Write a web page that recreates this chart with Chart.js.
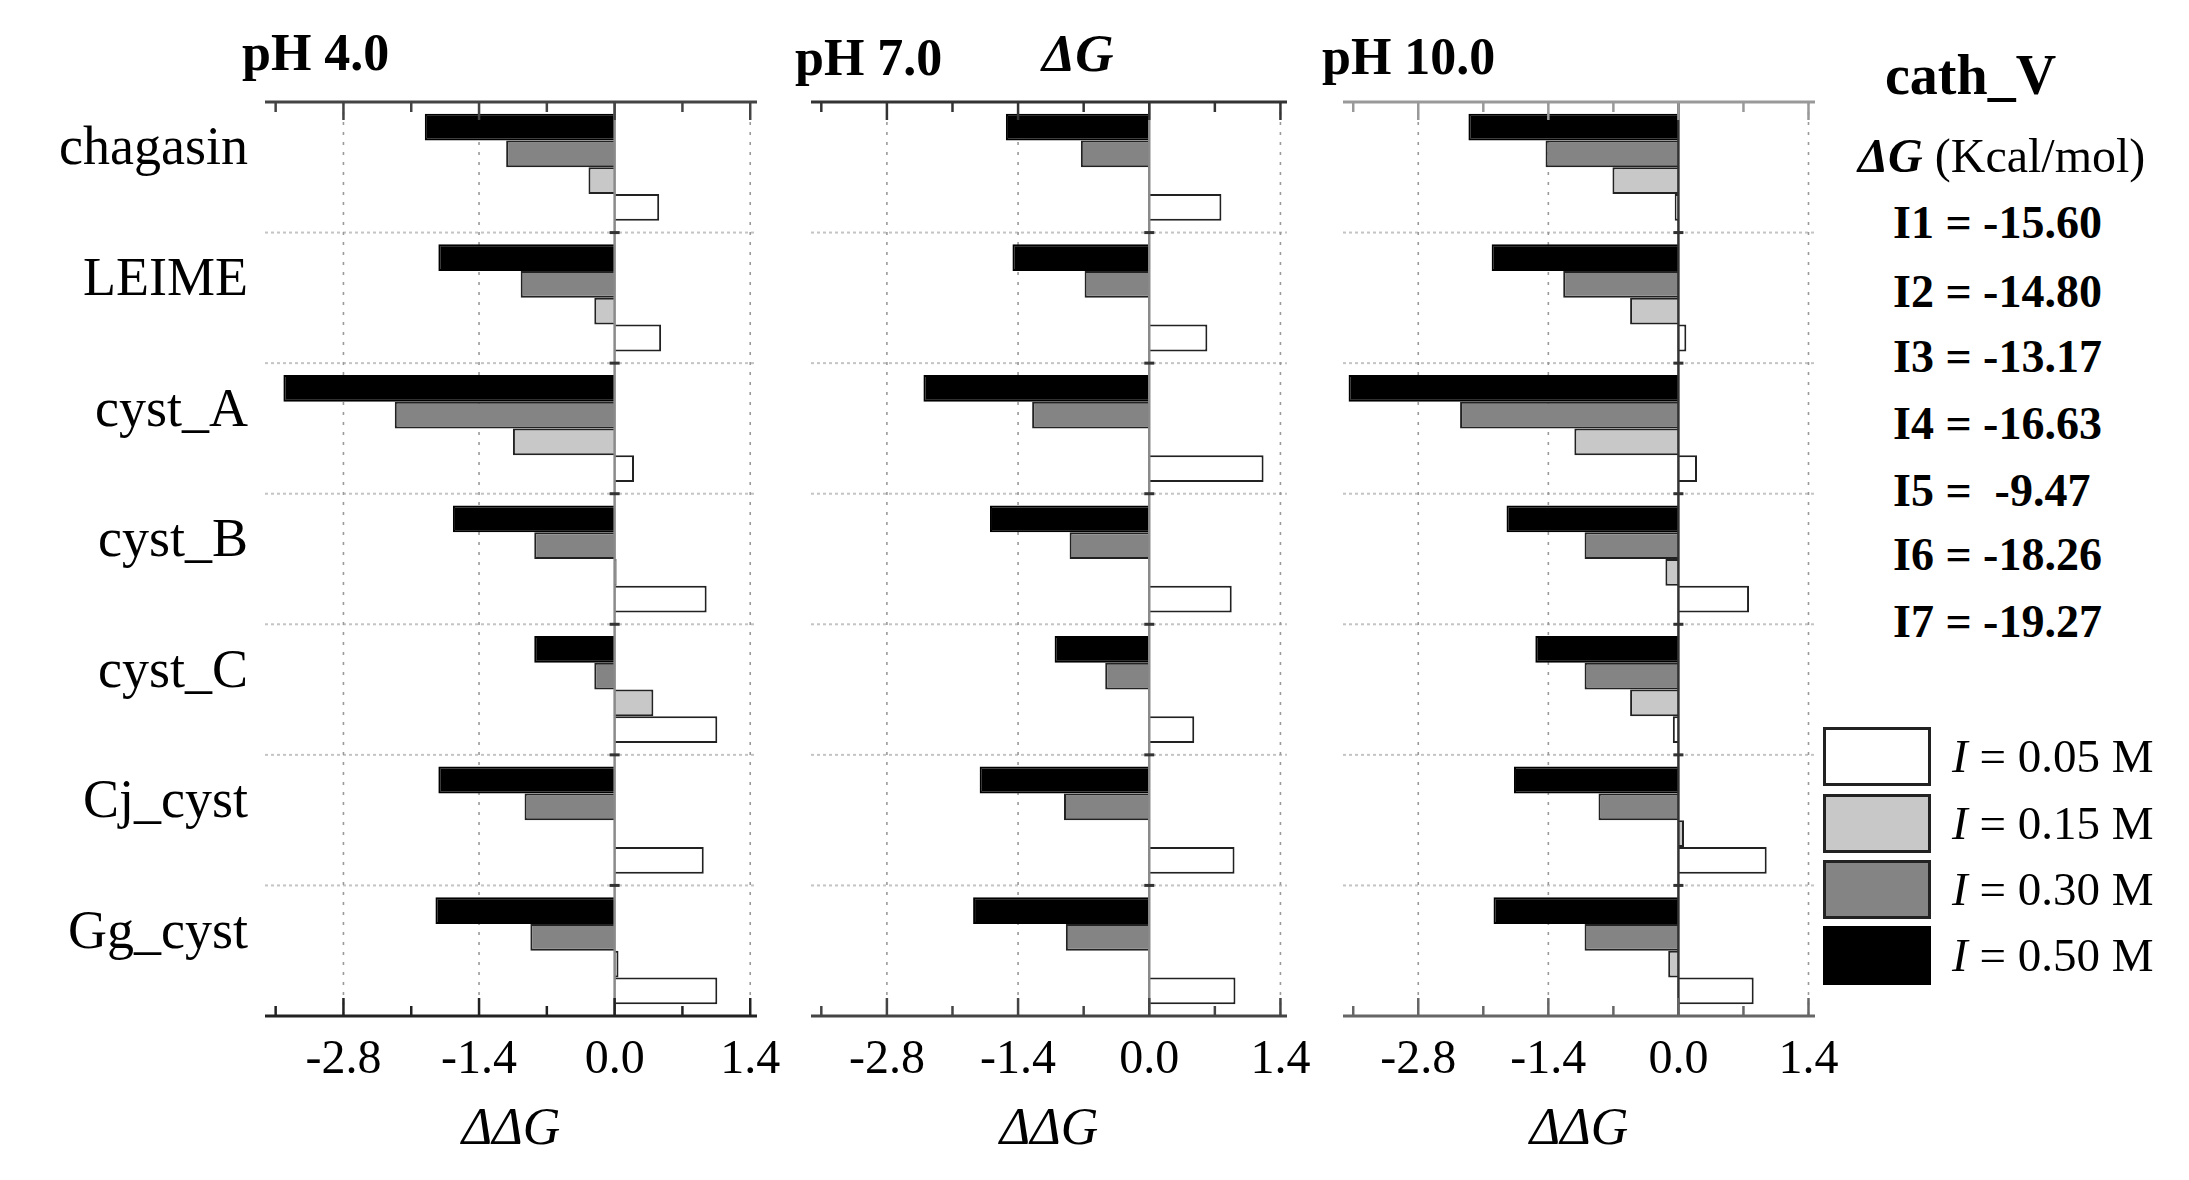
<!DOCTYPE html>
<html><head><meta charset="utf-8">
<script src="https://cdn.jsdelivr.net/npm/chart.js@4/dist/chart.umd.min.js"></script>
<style>
html,body{margin:0;padding:0;background:#fff;}
body{width:2189px;height:1180px;position:relative;overflow:hidden;font-family:"Liberation Serif","Times New Roman",serif;color:#000;}
canvas{position:absolute;top:0;}
.t{position:absolute;line-height:1;white-space:pre;}
.box{position:absolute;box-sizing:border-box;}
</style></head><body>
<canvas id="c1" width="800" height="1180" style="left:0px"></canvas>
<canvas id="c2" width="560" height="1180" style="left:780px"></canvas>
<canvas id="c3" width="560" height="1180" style="left:1315px"></canvas>
<div id="ann"></div>
<script>
// ---- data ----
const categories = ['chagasin','LEIME','cyst_A','cyst_B','cyst_C','Cj_cyst','Gg_cyst'];
const ionicStrengths = ['0.05','0.15','0.30','0.50'];
const panelTitles = ['pH 4.0','pH 7.0','pH 10.0'];
// ΔΔG values (kcal/mol) per pH and ionic strength, in category order
const pH4_I005 = [0.46, 0.48, 0.20, 0.95, 1.06, 0.92, 1.06];
const pH4_I015 = [-0.27, -0.21, -1.05, 0.02, 0.40, 0.00, 0.04];
const pH4_I030 = [-1.12, -0.97, -2.27, -0.83, -0.21, -0.93, -0.87];
const pH4_I050 = [-1.96, -1.82, -3.42, -1.67, -0.83, -1.82, -1.85];
const pH7_I005 = [0.77, 0.62, 1.22, 0.88, 0.48, 0.91, 0.92];
const pH7_I015 = [0, 0, 0, 0, 0, 0, 0];
const pH7_I030 = [-0.73, -0.69, -1.25, -0.85, -0.47, -0.91, -0.89];
const pH7_I050 = [-1.53, -1.46, -2.41, -1.70, -1.01, -1.81, -1.88];
const pH10_I005 = [-0.04, 0.085, 0.20, 0.76, -0.06, 0.95, 0.81];
const pH10_I015 = [-0.71, -0.52, -1.12, -0.14, -0.52, 0.06, -0.11];
const pH10_I030 = [-1.43, -1.24, -2.35, -1.01, -1.01, -0.86, -1.01];
const pH10_I050 = [-2.26, -2.01, -3.55, -1.85, -1.54, -1.77, -1.99];
const tickValues = [-3.5, -2.8, -2.1, -1.4, -0.7, 0, 0.7, 1.4];
const tickLabels = ['', '-2.8', '', '-1.4', '', '0.0', '', '1.4'];
const dGnames = ['I1','I2','I3','I4','I5','I6','I7'];
const dGvalues = ['-15.60','-14.80','-13.17','-16.63',' -9.47','-18.26','-19.27'];

// ---- styles ----
const FONT = "'Liberation Serif','Times New Roman',serif";
const fills = {'0.05':'#ffffff','0.15':'#c8c8c8','0.30':'#848484','0.50':'#000000'};
const borders = {'0.05':'#222222','0.15':'#222222','0.30':'#222222','0.50':'#000000'};

const axisDecor = {
  id: 'axisDecor',
  beforeDatasetsDraw(chart, args, o) {
    const {ctx, chartArea: a, scales: {x, y}} = chart;
    ctx.save();
    const line = (x1, y1, x2, y2) => { ctx.beginPath(); ctx.moveTo(x1, y1); ctx.lineTo(x2, y2); ctx.stroke(); };
    ctx.strokeStyle = '#c4c4c4'; ctx.lineWidth = 2; ctx.setLineDash([3, 3]);
    for (let i = 1; i < categories.length; i++) {
      const py = (y.getPixelForValue(i - 1) + y.getPixelForValue(i)) / 2;
      line(a.left, py, a.right, py);
    }
    ctx.strokeStyle = '#9a9a9a'; ctx.lineWidth = 1.6; ctx.setLineDash([3, 7]);
    tickValues.forEach((v, i) => {
      if (tickLabels[i] && v !== 0) { const px = x.getPixelForValue(v); line(px, a.top, px, a.bottom); }
    });
    ctx.restore();
  },
  afterDatasetsDraw(chart, args, o) {
    const {ctx, chartArea: a, scales: {x, y}} = chart;
    ctx.save();
    const line = (x1, y1, x2, y2) => { ctx.beginPath(); ctx.moveTo(x1, y1); ctx.lineTo(x2, y2); ctx.stroke(); };
    const px0 = x.getPixelForValue(0);
    ctx.strokeStyle = o.zeroColor; ctx.lineWidth = 2.5;
    line(px0, a.top, px0, a.bottom);
    ctx.strokeStyle = '#333'; ctx.lineWidth = 3;
    for (let i = 1; i < categories.length; i++) {
      const py = (y.getPixelForValue(i - 1) + y.getPixelForValue(i)) / 2;
      line(px0 - 5, py, px0 + 5, py);
    }
    // top & bottom axis lines
    ctx.lineWidth = 3;
    ctx.strokeStyle = o.topColor; line(a.left, a.top, a.right, a.top);
    ctx.strokeStyle = o.bottomColor; line(a.left, a.bottom, a.right, a.bottom);
    // inward tick marks
    ctx.lineWidth = 2.5;
    tickValues.forEach((v, i) => {
      const px = x.getPixelForValue(v);
      const len = tickLabels[i] ? 18 : 10;
      ctx.strokeStyle = o.topColor; line(px, a.top, px, a.top + len);
      ctx.strokeStyle = o.bottomColor; line(px, a.bottom, px, a.bottom - len);
    });
    ctx.restore();
  }
};

function makeChart(id, panel, series, pad, decor) {
  const datasets = ['0.50', '0.30', '0.15', '0.05'].map(k => ({
    label: 'I = ' + k + ' M',
    data: series[k],
    backgroundColor: fills[k],
    borderColor: borders[k],
    borderWidth: 2,
    borderSkipped: 'start',
    barPercentage: 1.0,
    categoryPercentage: 0.82
  }));
  return new Chart(document.getElementById(id), {
    type: 'bar',
    data: {labels: categories, datasets},
    plugins: [axisDecor],
    options: {
      indexAxis: 'y',
      responsive: false,
      animation: false,
      layout: {padding: pad},
      plugins: {legend: {display: false}, tooltip: {enabled: false}, axisDecor: decor},
      scales: {
        x: {
          type: 'linear', min: -3.61, max: 1.47,
          afterBuildTicks: s => { s.ticks = tickValues.map(v => ({value: v})); },
          grid: {display: false, drawTicks: false},
          border: {display: false},
          ticks: {callback: (v, i) => tickLabels[i], autoSkip: false, maxRotation: 0,
                  font: {family: FONT, size: 48}, color: '#000', padding: 16},
          title: {display: true, text: 'ΔΔG', color: '#000',
                  font: {family: FONT, size: 52, style: 'italic'}, padding: {top: 0, bottom: 18}},
          afterFit: s => { s.height = 164; }
        },
        y: {
          type: 'category',
          display: panel === 0,
          grid: {display: false, drawTicks: false},
          border: {display: false},
          ticks: {autoSkip: false, font: {family: FONT, size: 54}, color: '#000', padding: 17, labelOffset: -17},
          afterFit: s => { s.width = panel === 0 ? 265 : 0; }
        }
      }
    }
  });
}

makeChart('c1', 0, {'0.05': pH4_I005, '0.15': pH4_I015, '0.30': pH4_I030, '0.50': pH4_I050},
  {left: 0, top: 102, right: 43, bottom: 0}, {zeroColor: '#8a8a8a', topColor: '#444', bottomColor: '#222'});
makeChart('c2', 1, {'0.05': pH7_I005, '0.15': pH7_I015, '0.30': pH7_I030, '0.50': pH7_I050},
  {left: 31, top: 102, right: 53, bottom: 0}, {zeroColor: '#8a8a8a', topColor: '#333', bottomColor: '#444'});
makeChart('c3', 2, {'0.05': pH10_I005, '0.15': pH10_I015, '0.30': pH10_I030, '0.50': pH10_I050},
  {left: 28, top: 102, right: 60, bottom: 0}, {zeroColor: '#333', topColor: '#999', bottomColor: '#666'});

// ---- annotation text & legend (HTML) ----
const ann = document.getElementById('ann');
function txt(html, left, baseline, size, extra) {
  const d = document.createElement('div');
  d.className = 't';
  d.style.left = left + 'px';
  d.style.top = (baseline - 0.8375 * size) + 'px';
  d.style.fontSize = size + 'px';
  if (extra) d.style.cssText += extra;
  d.innerHTML = html;
  ann.appendChild(d);
}
txt(panelTitles[0], 242, 71, 52, 'font-weight:bold;');
txt(panelTitles[1], 795, 76, 52, 'font-weight:bold;');
txt('ΔG', 1042, 71, 53, 'font-weight:bold;font-style:italic;');
txt(panelTitles[2], 1322, 75, 52, 'font-weight:bold;');
txt('cath_V', 1885, 94, 56, 'font-weight:bold;');
txt('<b><i>ΔG</i></b> (Kcal/mol)', 1858, 172, 48);
const lineBase = [239, 308, 373, 440, 507, 571, 638];
dGnames.forEach((n, i) => txt(n + ' = ' + dGvalues[i], 1893, lineBase[i], 46, 'font-weight:bold;'));
const legendOrder = ['0.05', '0.15', '0.30', '0.50'];
const boxTop = [727, 794, 860, 926];
legendOrder.forEach((k, i) => {
  const b = document.createElement('div');
  b.className = 'box';
  b.style.cssText = `left:1823px;top:${boxTop[i]}px;width:108px;height:59px;background:${fills[k]};border:3px solid ${borders[k]};`;
  ann.appendChild(b);
  txt('<i>I</i> = ' + ionicStrengths[i] + ' M', 1952, boxTop[i] + 45, 47);
});
</script>
</body></html>
